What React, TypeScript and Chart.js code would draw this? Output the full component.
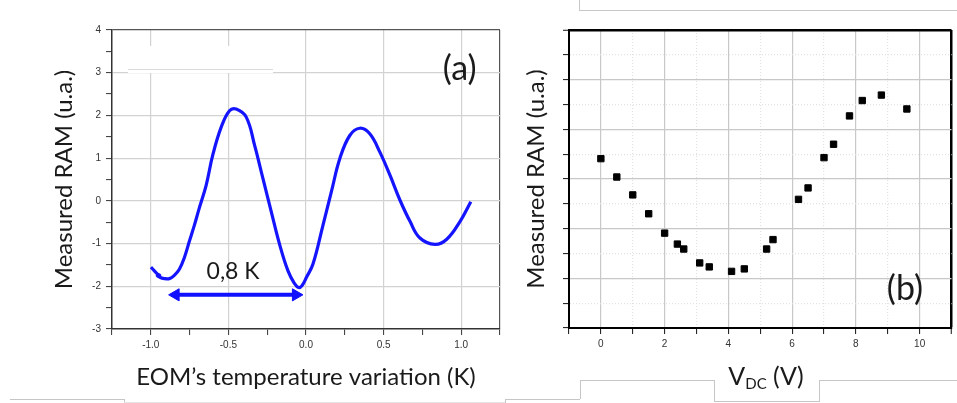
import React, { useEffect, useRef } from 'react';
import { Chart, registerables } from 'chart.js';

Chart.register(...registerables);

const W = 957;
const H = 403;

// ---------- Panel (a): RAM vs EOM temperature variation ----------
const tempX = [
  -0.999, -0.977, -0.958, -0.942, -0.952, -0.958, -0.942, -0.913, -0.88,
  -0.85, -0.816, -0.784, -0.751, -0.72, -0.69, -0.643, -0.601, -0.547, -0.493, -0.45, -0.385,
  -0.331, -0.278, -0.224, -0.17, -0.116, -0.075, -0.048, -0.025, 0.003,
  0.045, 0.11, 0.164, 0.218, 0.282, 0.347, 0.411, 0.476, 0.541, 0.605,
  0.67, 0.734, 0.831, 0.907, 0.993, 1.062,
];
const ramA = [
  -1.55, -1.64, -1.71, -1.75, -1.77, -1.745, -1.79, -1.82, -1.82,
  -1.75, -1.6, -1.33, -0.94, -0.58, -0.2, 0.37, 1.07, 1.72, 2.11, 2.15, 1.96,
  1.3, 0.53, -0.25, -1.02, -1.64, -1.93, -2.03, -1.98, -1.79,
  -1.48, -0.56, 0.22, 0.99, 1.53, 1.7, 1.57, 1.14, 0.6, 0.02,
  -0.48, -0.87, -1.02, -0.9, -0.48, -0.02,
];
const arrowX = [-0.84, -0.065];
const arrowY = [-2.2, -2.2];
const xTicksA = [-1.0, -0.5, 0.0, 0.5, 1.0];
const yTicksA = [-3, -2, -1, 0, 1, 2, 3, 4];
const labelsA = ['0,8 K', '(a)'];
const labelsAX = [-0.47, 0.99];
const labelsAY = [-1.66, 3.09];
const labelsASize = [23, 34];

// ---------- Panel (b): RAM vs V_DC ----------
const vdc = [0, 0.5, 1, 1.5, 2, 2.4, 2.6, 3.1, 3.4, 4.1, 4.5, 5.2, 5.4, 6.2, 6.5, 7, 7.3, 7.8, 8.2, 8.8, 9.6];
const ramB = [3.41, 3.04, 2.68, 2.3, 1.91, 1.69, 1.59, 1.31, 1.23, 1.14, 1.19, 1.59, 1.78, 2.59, 2.82, 3.43, 3.7, 4.27, 4.58, 4.69, 4.41];
const xTicksB = [0, 2, 4, 6, 8, 10];
const yMajorB = [0, 1, 2, 3, 4, 5, 6];
const labelsB = ['(b)'];
const labelsBX = [9.54];
const labelsBY = [0.78];
const labelsBSize = [34];

const isIn = (arr: number[], v: number) => arr.some((t) => Math.abs(t - v) < 1e-6);

const TEXT_FONT = 'Lato, "Open Sans", sans-serif';
const TICK_FONT = { family: '"Liberation Sans", Arial, sans-serif', size: 10 };

function textPlugin(texts: string[], xs: number[], ys: number[], sizes: number[]) {
  return {
    id: 'panelTexts',
    afterDatasetsDraw(chart: any) {
      const { ctx, scales } = chart;
      ctx.save();
      ctx.fillStyle = '#1a1a1a';
      ctx.textAlign = 'center';
      ctx.textBaseline = 'middle';
      texts.forEach((t, i) => {
        ctx.font = `${sizes[i]}px ${TEXT_FONT}`;
        ctx.fillText(t, scales.x.getPixelForValue(xs[i]), scales.y.getPixelForValue(ys[i]));
      });
      ctx.restore();
    },
  };
}

function configA(): any {
  return {
    type: 'scatter',
    data: {
      datasets: [
        {
          data: tempX.map((x, i) => ({ x, y: ramA[i] })),
          showLine: true,
          borderColor: '#1414ff',
          borderWidth: 3.2,
          pointRadius: 0,
          tension: 0.4,
          fill: false,
        },
        {
          data: arrowX.map((x, i) => ({ x, y: arrowY[i] })),
          showLine: true,
          borderColor: '#1010ff',
          backgroundColor: '#1010ff',
          borderWidth: 4,
          pointStyle: 'triangle',
          pointRadius: 7,
          pointBorderWidth: 1,
          pointBorderColor: '#1010ff',
          pointBackgroundColor: '#1010ff',
          pointRotation: [270, 90],
          fill: false,
        },
      ],
    },
    options: {
      responsive: false,
      animation: false,
      devicePixelRatio: 1,
      layout: { padding: { left: 0, top: 30, right: W - 500, bottom: 0 } },
      plugins: { legend: { display: false }, tooltip: { enabled: false } },
      scales: {
        x: {
          type: 'linear',
          min: -1.25,
          max: 1.25,
          ticks: {
            stepSize: 0.25,
            autoSkip: false,
            maxRotation: 0,
            padding: 4,
            color: '#333',
            font: TICK_FONT,
            callback: (v: number) => (isIn(xTicksA, v) ? Number(v).toFixed(1) : ''),
          },
          grid: {
            color: (c: any) => {
              const v = c.tick ? c.tick.value : NaN;
              if (Math.abs(v - 1.25) < 1e-6) return '#555';
              return isIn(xTicksA, v) ? '#d2d2d2' : 'rgba(0,0,0,0)';
            },
            lineWidth: 1.2,
            tickColor: '#333',
            tickLength: 6,
            tickWidth: 1,
          },
          border: { color: '#333', width: 1.5 },
          title: {
            display: true,
            text: 'EOM’s temperature variation (K)',
            color: '#1a1a1a',
            font: { family: TEXT_FONT, size: 24 },
            padding: { top: 0, bottom: 11 },
          },
          afterFit: (s: any) => {
            s.height = H - 329;
          },
        },
        y: {
          type: 'linear',
          min: -3,
          max: 4,
          ticks: {
            stepSize: 0.5,
            autoSkip: false,
            padding: 5,
            color: '#333',
            font: TICK_FONT,
            callback: (v: number) => (isIn(yTicksA, v) ? String(v) : ''),
          },
          grid: {
            color: (c: any) => {
              const v = c.tick ? c.tick.value : NaN;
              if (Math.abs(v - 4) < 1e-6) return '#555';
              if (Math.abs(v + 3) < 1e-6) return 'rgba(0,0,0,0)';
              return isIn(yTicksA, v) ? '#d2d2d2' : 'rgba(0,0,0,0)';
            },
            lineWidth: 1.2,
            tickColor: '#333',
            tickLength: 6,
            tickWidth: 1,
          },
          border: { color: '#333', width: 1.5 },
          title: {
            display: true,
            text: 'Measured RAM (u.a.)',
            color: '#1a1a1a',
            font: { family: TEXT_FONT, size: 24 },
            padding: { top: 50, bottom: 0 },
          },
          afterFit: (s: any) => {
            s.width = 112;
          },
        },
      },
    },
    plugins: [textPlugin(labelsA, labelsAX, labelsAY, labelsASize)],
  };
}

function configB(): any {
  return {
    type: 'scatter',
    data: {
      datasets: [
        {
          data: vdc.map((x, i) => ({ x, y: ramB[i] })),
          pointStyle: 'rect',
          pointRadius: 4.5,
          pointBorderWidth: 1,
          pointBackgroundColor: '#000',
          pointBorderColor: '#000',
          backgroundColor: '#000',
          borderColor: '#000',
        },
      ],
    },
    options: {
      responsive: false,
      animation: false,
      devicePixelRatio: 1,
      layout: { padding: { left: 0, top: 30, right: W - 953, bottom: 0 } },
      plugins: { legend: { display: false }, tooltip: { enabled: false } },
      scales: {
        x: {
          type: 'linear',
          min: -1,
          max: 11,
          ticks: {
            stepSize: 1,
            autoSkip: false,
            maxRotation: 0,
            padding: 4,
            color: '#333',
            font: TICK_FONT,
            callback: (v: number) => (isIn(xTicksB, v) ? String(v) : ''),
          },
          grid: {
            color: (c: any) => {
              const v = c.tick ? c.tick.value : NaN;
              if (Math.abs(v - 11) < 1e-6) return '#000';
              if (Math.abs(v + 1) < 1e-6) return 'rgba(0,0,0,0)';
              return isIn(xTicksB, v) ? '#c8c8c8' : '#e2e2e2';
            },
            lineWidth: (c: any) => {
              const v = c.tick ? c.tick.value : NaN;
              return Math.abs(v - 11) < 1e-6 ? 2.5 : 1.2;
            },
            tickColor: '#111',
            tickLength: 6,
            tickWidth: 1,
          },
          border: {
            color: '#000',
            width: 2,
            dash: (c: any) => {
              if (!c.tick) return [];
              return isIn(xTicksB, c.tick.value) || Math.abs(c.tick.value - 11) < 1e-6 ? [] : [1, 2];
            },
          },
          title: { display: false },
          afterFit: (s: any) => {
            s.height = H - 328;
          },
        },
        y: {
          type: 'linear',
          min: 0,
          max: 6,
          ticks: {
            stepSize: 0.5,
            autoSkip: false,
            padding: 4,
            font: TICK_FONT,
            callback: () => '',
          },
          grid: {
            color: (c: any) => {
              const v = c.tick ? c.tick.value : NaN;
              if (Math.abs(v - 6) < 1e-6) return '#000';
              if (Math.abs(v) < 1e-6) return 'rgba(0,0,0,0)';
              return isIn(yMajorB, v) ? '#c8c8c8' : '#e2e2e2';
            },
            lineWidth: (c: any) => {
              const v = c.tick ? c.tick.value : NaN;
              return Math.abs(v - 6) < 1e-6 ? 2.5 : 1.2;
            },
            tickColor: '#111',
            tickLength: 6,
            tickWidth: 1,
          },
          border: {
            color: '#000',
            width: 2,
            dash: (c: any) => {
              if (!c.tick) return [];
              return isIn(yMajorB, c.tick.value) ? [] : [1, 2];
            },
          },
          title: {
            display: true,
            text: 'Measured RAM (u.a.)',
            color: '#1a1a1a',
            font: { family: TEXT_FONT, size: 24 },
            padding: { top: 522, bottom: 0 },
          },
          afterFit: (s: any) => {
            s.width = 569;
          },
        },
      },
    },
    plugins: [textPlugin(labelsB, labelsBX, labelsBY, labelsBSize)],
  };
}

const line = (left: number, top: number, width: number, height: number, color = '#c6c6c6') => (
  <div style={{ position: 'absolute', left, top, width, height, background: color }} />
);

export default function App() {
  const aRef = useRef<HTMLCanvasElement>(null);
  const bRef = useRef<HTMLCanvasElement>(null);

  useEffect(() => {
    const ca = new Chart(aRef.current as HTMLCanvasElement, configA());
    const cb = new Chart(bRef.current as HTMLCanvasElement, configB());
    return () => {
      ca.destroy();
      cb.destroy();
    };
  }, []);

  return (
    <div style={{ position: 'absolute', left: 0, top: 0, width: W, height: H, background: '#fff', overflow: 'hidden' }}>
      <canvas ref={aRef} width={W} height={H} style={{ position: 'absolute', left: 0, top: 0 }} />
      <canvas ref={bRef} width={W} height={H} style={{ position: 'absolute', left: 0, top: 0 }} />
      {/* scanned-page artefacts */}
      <div style={{ position: 'absolute', left: 128, top: 46, width: 145, height: 27, background: '#fff' }} />
      {line(128, 69, 145, 1, '#dadada')}
      {line(579, 0, 1, 10)}
      {line(579, 10, 378, 1)}
      {line(10, 399, 114, 1)}
      {line(124, 399, 1, 4)}
      {line(124, 402, 381, 1, '#e4e4e4')}
      {line(505, 399, 1, 4)}
      {line(505, 399, 75, 1)}
      {line(580, 380, 1, 19)}
      {line(580, 380, 134, 1)}
      {line(714, 380, 1, 22)}
      {line(714, 401, 105, 1)}
      {line(819, 380, 1, 22)}
      {line(819, 380, 138, 1)}
      <div
        style={{
          position: 'absolute',
          left: 691,
          top: 360,
          width: 150,
          textAlign: 'center',
          fontFamily: TEXT_FONT,
          fontSize: 25,
          lineHeight: '30px',
          color: '#1a1a1a',
        }}
      >
        <span>
          V<sub style={{ fontSize: 15, verticalAlign: '-4px', lineHeight: 0 }}>DC</sub> (V)
        </span>
      </div>
    </div>
  );
}
